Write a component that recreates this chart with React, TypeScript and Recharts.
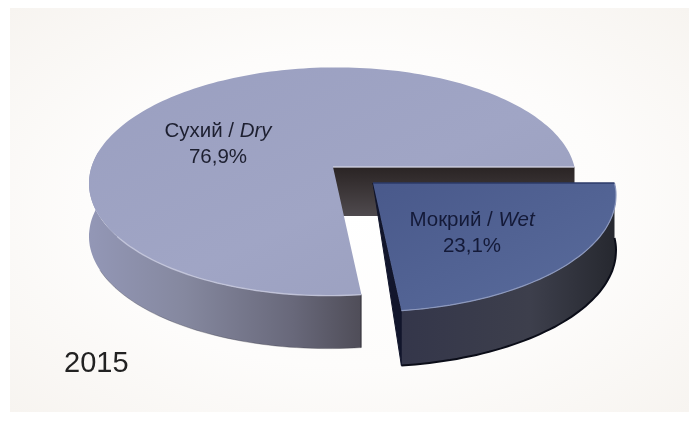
import React from "react";
import { PieChart, Pie } from "recharts";

const categories = ["Сухий", "Мокрий"];
const latinNames = ["Dry", "Wet"];
const values = [76.9, 23.1];
const valueLabels = ["76,9%", "23,1%"];
const yearLabel = "2015";

const tableData = categories.map((name, i) => ({ name, value: values[i], latin: latinNames[i], text: valueLabels[i] }));

const W = 689, H = 421;
const CX = 333, CY = 167, R = 241.5;
const RATIO = 0.465, P = 0.127, SHEAR = -4;
const DEPTH = 53;
const FONT = "'Liberation Sans', Arial, sans-serif";

const project = (cx: number, cy: number, r: number, deg: number) => {
  const a = (deg * Math.PI) / 180;
  const u = Math.cos(a), v = -Math.sin(a);
  const w = 1 / (1 - P * v);
  return [cx + r * u * w + SHEAR * v * w, cy + r * RATIO * v * w];
};

const arcPts = (cx: number, cy: number, r: number, from: number, to: number) => {
  const n = Math.max(2, Math.ceil(Math.abs(to - from) / 1.5));
  const out: number[][] = [];
  for (let i = 0; i <= n; i++) out.push(project(cx, cy, r, from + ((to - from) * i) / n));
  return out;
};
const toPath = (pts: number[][], close = true) =>
  "M" + pts.map((p) => `${p[0].toFixed(1)},${p[1].toFixed(1)}`).join("L") + (close ? "Z" : "");

function SliceShape(props: any) {
  const { cx, cy, outerRadius, startAngle, endAngle, index } = props;
  const wet = index === 1;
  const ox = cx + (wet ? 40 : 0);
  const oy = cy + (wet ? 16 : 0);
  const apex = [ox, oy];
  const top = arcPts(ox, oy, outerRadius, startAngle, endAngle);
  const face = toPath([apex, ...top]);
  if (!wet) {
    const right = project(ox, oy, outerRadius, startAngle);
    const front = project(ox, oy, outerRadius, endAngle);
    const rim = arcPts(ox, oy, outerRadius, 172, endAngle);
    const glow = arcPts(ox, oy, outerRadius, 215, endAngle);
    const lower = [...rim].reverse().map((p) => [p[0], p[1] + DEPTH]);
    const lowerEnd = project(ox, oy, outerRadius, 172);
    return (
      <g>
        <path d={toPath([apex, right, [right[0], right[1] + 49], [apex[0], apex[1] + 49]])} fill="url(#cutWall)" />
        <path d={toPath([...rim, ...lower, [lowerEnd[0] + 2, lowerEnd[1] + DEPTH]])} fill="url(#drySide)" />
        <path d={toPath([[front[0] - 1, front[1]], [front[0] + 0, front[1]], [front[0], front[1] + DEPTH], [front[0] - 1, front[1] + DEPTH]])} fill="#3a3840" />
        <path d={toPath(arcPts(ox, oy, outerRadius, 205, endAngle).map((p) => [p[0], p[1] + DEPTH]), false)} fill="none" stroke="#2e2d38" strokeWidth={1} opacity={0.3} />
        <path d={face} fill="url(#dryTop)" />
        <path d={toPath(glow, false)} fill="none" stroke="#c4c7dc" strokeWidth={1.4} opacity={0.85} />
        <path d={toPath([apex, right], false)} fill="none" stroke="#d3d5e4" strokeWidth={1.4} opacity={0.85} />
      </g>
    );
  }
  const rim = arcPts(ox, oy, outerRadius, startAngle, endAngle);
  const lower = [...rim].reverse().map((p) => [p[0], p[1] + DEPTH + 2]);
  const front = rim[0];
  return (
    <g>
      <path d={toPath([...rim, ...lower])} fill="url(#wetSide)" />
      <path d={toPath(rim.map((p) => [p[0], p[1] + DEPTH + 2]), false)} fill="none" stroke="#0b0d18" strokeWidth={2} />
      <path d={toPath([apex, front, [front[0], front[1] + DEPTH + 2]])} fill="#12162c" stroke="#12162c" strokeWidth={1} />
      <path d={face} fill="url(#wetTop)" />
      <path d={toPath(rim, false)} fill="none" stroke="#8c98bd" strokeWidth={1.2} />
      <path d={toPath([apex, project(ox, oy, outerRadius, endAngle)], false)} fill="none" stroke="#2b3a68" strokeWidth={1.6} />
    </g>
  );
}

const labelSpots = [
  { x: 218, y: 137 },
  { x: 472, y: 226 },
];

function SliceLabel(props: any) {
  const { index } = props;
  const spot = labelSpots[index];
  return (
    <text x={spot.x} y={spot.y} textAnchor="middle" fontFamily={FONT} fontSize={20.5} fill={index === 0 ? "#1d1f30" : "#141a38"}>
      <tspan x={spot.x}>
        {tableData[index].name} / <tspan fontStyle="italic">{tableData[index].latin}</tspan>
      </tspan>
      <tspan x={spot.x} dy={26}>{tableData[index].text}</tspan>
    </text>
  );
}

export default function App() {
  return (
    <div style={{ position: "absolute", left: 0, top: 0, width: W, height: H, background: "#ffffff", overflow: "hidden", filter: "blur(0.5px)" }}>
      <div style={{ position: "absolute", left: 10, top: 8, width: W - 10, height: 404, background: "radial-gradient(ellipse at 50% 50%,#ffffff 0%,#fdfcfb 55%,#f7f4f0 100%)" }} />
      <div style={{ position: "absolute", left: 0, top: 0 }}>
        <PieChart width={W} height={H} margin={{ top: 0, right: 0, bottom: 0, left: 0 }}>
          <defs>
            <linearGradient id="dryTop" x1="0" y1="0" x2="1" y2="1">
              <stop offset="0%" stopColor="#9a9fc0" />
              <stop offset="55%" stopColor="#a0a5c5" />
              <stop offset="100%" stopColor="#999ebd" />
            </linearGradient>
            <linearGradient id="drySide" x1="0" y1="0" x2="1" y2="0">
              <stop offset="0%" stopColor="#9397b6" />
              <stop offset="35%" stopColor="#85889f" />
              <stop offset="75%" stopColor="#68687a" />
              <stop offset="100%" stopColor="#4f4d58" />
            </linearGradient>
            <linearGradient id="cutWall" x1="0" y1="0" x2="0" y2="1">
              <stop offset="0%" stopColor="#2a2424" />
              <stop offset="30%" stopColor="#352f30" />
              <stop offset="100%" stopColor="#4f4a4e" />
            </linearGradient>
            <linearGradient id="wetTop" x1="0" y1="0" x2="1" y2="1">
              <stop offset="0%" stopColor="#49598b" />
              <stop offset="100%" stopColor="#5a6c9c" />
            </linearGradient>
            <linearGradient id="wetSide" x1="0" y1="0" x2="1" y2="0">
              <stop offset="0%" stopColor="#34364a" />
              <stop offset="60%" stopColor="#3d3f4c" />
              <stop offset="100%" stopColor="#26282f" />
            </linearGradient>
          </defs>
          <Pie
            data={tableData}
            dataKey="value"
            nameKey="name"
            cx={CX}
            cy={CY}
            outerRadius={R}
            innerRadius={0}
            startAngle={0}
            endAngle={360}
            paddingAngle={0}
            stroke="none"
            isAnimationActive={false}
            shape={SliceShape}
            label={SliceLabel}
            labelLine={false}
          />
          <text x={64} y={372} fontFamily={FONT} fontSize={29} fill="#222222">{yearLabel}</text>
        </PieChart>
      </div>
    </div>
  );
}
